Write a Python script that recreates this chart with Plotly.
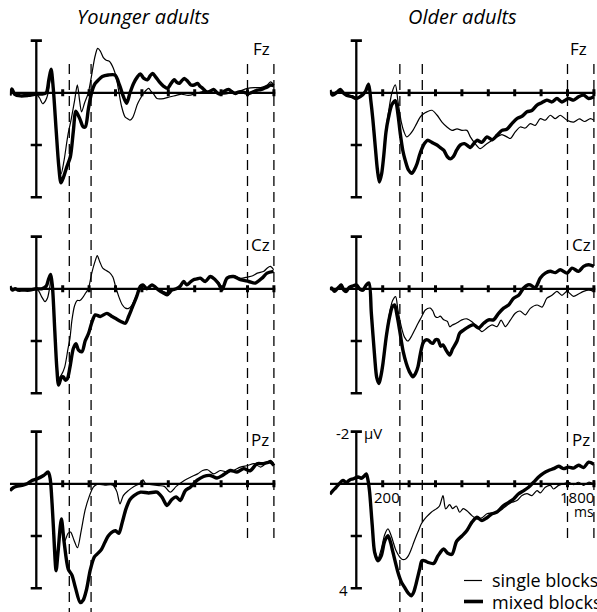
import plotly.graph_objects as go

# ---------------- data (time in ms, amplitude in µV; negative plotted up) ----------------
PANEL_TITLES = ["Younger adults", "Older adults"]
ELECTRODES = ["Fz", "Cz", "Pz"]
SERIES_NAMES = ["single blocks", "mixed blocks"]

X_TICKS_MS = [200, 400, 600, 800, 1000, 1200, 1400, 1600, 1800]
Y_TICKS_UV = [-2, 2, 4]
WINDOWS_YOUNG = [250, 415]
WINDOWS_OLD = [330, 500]
WINDOWS_LATE = [1600, 1800]

# Younger adults, Fz
YF_MIXED = [(-200,0.1),(-185,-0.15),(-165,0.05),(-120,0.12),(-60,0.1),(0,0.05),(40,0.05),(75,0.0),(95,-0.5),(112,-0.9),(128,-0.2),(150,1.4),(170,2.8),(187,3.45),(205,3.25),(230,2.85),(258,2.45),(280,1.5),(300,0.7),(330,1.0),(355,1.3),(372,1.3),(395,0.6),(419,0.0),(445,-0.35),(470,-0.49),(500,-0.62),(545,-0.68),(596,-0.68),(630,-0.3),(660,0.15),(684,0.4),(710,0.0),(737,-0.36),(765,-0.6),(788,-0.72),(815,-0.55),(843,-0.5),(862,-0.65),(881,-0.74),(905,-0.6),(932,-0.42),(965,-0.25),(995,-0.17),(1020,-0.35),(1045,-0.5),(1065,-0.4),(1083,-0.36),(1100,-0.45),(1121,-0.55),(1145,-0.45),(1171,-0.3),(1195,-0.3),(1222,-0.36),(1240,-0.25),(1260,-0.17),(1285,-0.05),(1310,-0.04),(1343,-0.13),(1370,0.0),(1394,0.05),(1420,-0.05),(1457,-0.13),(1480,-0.05),(1508,0.03),(1530,-0.03),(1558,-0.04),(1585,0.0),(1611,0.03),(1640,-0.03),(1674,-0.1),(1700,-0.12),(1724,-0.17),(1750,-0.22),(1775,-0.3),(1800,-0.27)]
YF_SINGLE = [(-200,0.1),(-185,-0.1),(-160,0.05),(-120,0.1),(-60,0.1),(0,0.05),(25,0.2),(48,0.42),(70,0.3),(90,0.0),(105,-0.5),(115,-0.65),(130,-0.1),(150,1.3),(170,2.6),(188,3.1),(210,2.6),(240,1.6),(265,1.0),(290,0.3),(311,-0.3),(328,0.3),(343,0.73),(365,0.4),(394,0.0),(420,-0.7),(445,-1.4),(465,-1.7),(485,-1.6),(508,-1.35),(530,-1.25),(555,-1.2),(583,-0.95),(605,-0.6),(621,-0.17),(645,0.5),(672,0.92),(695,1.0),(710,1.05),(730,0.95),(747,0.73),(765,0.45),(788,0.22),(815,0.0),(851,-0.17),(870,-0.05),(889,0.05),(914,0.22),(965,0.22),(1015,0.15),(1060,0.1),(1100,0.05),(1150,0.1),(1200,0.05),(1260,-0.05),(1310,0.0),(1370,0.0),(1420,0.05),(1480,0.0),(1530,-0.05),(1601,-0.17),(1650,-0.2),(1700,-0.2),(1750,-0.3),(1775,-0.42),(1800,-0.3)]

# Younger adults, Cz
YC_MIXED = [(-200,-0.1),(-180,0.05),(-160,0.0),(-140,0.05),(-100,0.05),(-50,0.05),(0,0.0),(40,0.0),(75,-0.1),(95,-0.4),(109,-0.55),(122,-0.1),(140,1.6),(155,3.0),(169,3.69),(190,3.4),(205,3.37),(220,3.5),(235,3.45),(255,3.0),(280,2.3),(300,2.1),(320,2.35),(346,2.41),(370,2.0),(396,1.71),(420,1.3),(447,1.0),(485,1.06),(535,0.94),(570,1.05),(598,1.13),(640,1.25),(674,1.32),(700,1.05),(725,0.74),(760,0.3),(788,-0.09),(808,-0.15),(838,0.0),(876,-0.15),(927,0.05),(960,0.15),(990,0.23),(1027,0.05),(1060,0.0),(1090,-0.1),(1116,-0.28),(1140,-0.15),(1165,-0.25),(1191,-0.35),(1217,-0.38),(1242,-0.41),(1280,-0.28),(1318,-0.47),(1355,-0.35),(1380,-0.2),(1407,0.03),(1445,-0.41),(1495,-0.47),(1546,-0.35),(1609,-0.28),(1659,-0.22),(1710,-0.41),(1748,-0.6),(1798,-0.67)]
YC_SINGLE = [(-200,-0.1),(-180,0.05),(-160,0.0),(-140,0.05),(-100,0.05),(-50,0.05),(0,0.0),(20,0.1),(40,0.3),(66,0.49),(85,0.35),(100,0.0),(112,-0.35),(125,0.0),(145,2.0),(160,3.1),(172,3.4),(190,3.3),(215,3.0),(240,2.3),(255,1.9),(270,1.2),(290,0.65),(310,0.45),(330,0.45),(350,0.35),(375,0.15),(394,0.0),(420,-0.6),(445,-1.05),(462,-1.27),(480,-1.05),(505,-0.78),(530,-0.7),(555,-0.62),(580,-0.45),(600,-0.1),(625,0.3),(650,0.6),(675,0.74),(700,0.75),(725,0.62),(750,0.35),(775,0.05),(795,-0.15),(815,-0.1),(838,0.0),(876,-0.12),(927,0.0),(960,0.1),(990,0.15),(1027,0.05),(1060,0.0),(1090,-0.1),(1116,-0.25),(1140,-0.18),(1165,-0.25),(1191,-0.35),(1217,-0.4),(1242,-0.38),(1280,-0.3),(1318,-0.45),(1355,-0.35),(1380,-0.25),(1407,-0.05),(1445,-0.4),(1495,-0.5),(1546,-0.4),(1600,-0.45),(1640,-0.5),(1674,-0.6),(1724,-0.67),(1748,-0.79),(1773,-0.86),(1798,-0.73)]

# Younger adults, Pz
YP_MIXED = [(-200,0.26),(-175,0.15),(-150,0.1),(-110,0.06),(-70,0.0),(-33,-0.13),(5,-0.19),(55,-0.32),(90,-0.45),(105,-0.2),(120,0.8),(131,1.8),(150,3.33),(165,2.6),(190,1.35),(210,2.2),(242,3.27),(270,3.5),(295,3.95),(333,4.55),(356,4.45),(381,4.04),(409,3.3),(440,2.8),(470,2.65),(495,2.5),(520,2.24),(545,2.0),(571,1.86),(600,1.8),(625,1.9),(650,1.5),(680,0.95),(710,0.6),(740,0.45),(790,0.32),(851,0.35),(914,0.32),(952,0.51),(990,0.83),(1027,0.6),(1060,0.5),(1091,0.64),(1129,0.26),(1167,0.13),(1217,-0.13),(1267,-0.28),(1318,-0.32),(1369,-0.22),(1410,-0.32),(1470,-0.51),(1520,-0.45),(1571,-0.58),(1620,-0.5),(1672,-0.77),(1720,-0.77),(1773,-0.83),(1800,-0.7)]
YP_SINGLE = [(-200,0.26),(-175,0.15),(-150,0.1),(-110,0.06),(-70,0.0),(-33,-0.13),(5,-0.19),(55,-0.3),(90,-0.4),(105,-0.2),(120,0.7),(133,1.8),(150,3.0),(167,2.4),(190,1.4),(215,2.2),(240,1.9),(260,1.85),(285,2.15),(312,2.45),(340,1.8),(370,1.0),(400,0.5),(432,0.13),(460,0.02),(520,0.05),(580,0.05),(610,0.3),(634,0.77),(659,0.45),(697,0.26),(740,0.1),(780,0.0),(808,-0.15),(830,0.0),(870,0.03),(930,0.07),(970,0.1),(1015,0.32),(1060,0.1),(1121,-0.13),(1171,-0.26),(1222,-0.38),(1260,-0.51),(1298,-0.54),(1343,-0.38),(1394,-0.51),(1445,-0.45),(1495,-0.51),(1546,-0.64),(1601,-0.7),(1650,-0.77),(1700,-0.64),(1750,-0.83),(1775,-0.9),(1800,-0.77)]

# Older adults, Fz
OF_MIXED = [(-200,-0.1),(-180,0.09),(-160,0.03),(-140,-0.05),(-121,-0.13),(-100,0.0),(-75,0.09),(-33,0.15),(0,0.22),(30,0.15),(68,-0.04),(93,-0.33),(110,0.3),(125,1.0),(144,2.08),(160,2.95),(175,3.42),(192,3.1),(207,2.46),(225,1.5),(245,0.92),(270,0.45),(296,0.3),(315,0.8),(333,1.56),(352,2.2),(371,2.59),(395,2.95),(422,3.08),(440,2.95),(460,2.72),(478,2.4),(497,2.14),(515,1.95),(540,1.82),(573,1.9),(611,2.0),(636,2.1),(662,2.2),(690,2.45),(712,2.53),(735,2.45),(760,2.2),(788,2.0),(820,1.95),(850,2.05),(864,2.1),(890,1.95),(914,1.82),(950,1.9),(990,1.69),(1030,1.8),(1066,1.63),(1103,1.44),(1140,1.4),(1179,1.18),(1217,0.99),(1255,0.9),(1293,0.73),(1330,0.68),(1369,0.47),(1405,0.38),(1444,0.28),(1482,0.35),(1520,0.22),(1558,0.35),(1608,0.22),(1646,0.28),(1684,0.15),(1722,0.09),(1760,0.22),(1800,0.15)]
OF_SINGLE = [(-200,-0.1),(-180,0.09),(-160,0.03),(-140,-0.05),(-121,-0.13),(-100,0.0),(-75,0.09),(-33,0.12),(0,0.18),(30,0.12),(68,-0.04),(93,-0.25),(110,0.3),(125,1.0),(144,2.0),(160,2.9),(175,3.35),(192,3.05),(207,2.4),(225,1.4),(245,0.7),(270,0.0),(296,-0.3),(315,0.3),(341,1.12),(362,1.5),(382,1.69),(405,1.6),(429,1.44),(455,1.2),(485,0.92),(510,0.8),(535,0.73),(573,0.67),(611,0.85),(649,1.12),(687,1.31),(725,1.44),(763,1.38),(800,1.44),(838,1.44),(864,1.69),(901,1.95),(939,2.14),(977,2.0),(1020,1.85),(1066,1.69),(1103,1.6),(1141,1.69),(1167,1.75),(1204,1.5),(1242,1.31),(1280,1.35),(1318,1.18),(1356,1.25),(1394,0.99),(1432,1.05),(1470,0.86),(1508,0.99),(1545,0.86),(1596,1.05),(1646,1.12),(1690,1.0),(1730,1.1),(1773,0.99),(1800,1.05)]

# Older adults, Cz
OC_MIXED = [(-200,0.04),(-188,-0.03),(-165,0.1),(-145,0.0),(-125,-0.1),(-114,-0.15),(-95,0.05),(-76,0.1),(-55,-0.05),(-30,-0.1),(0,-0.15),(25,0.0),(50,0.05),(76,-0.15),(96,-0.22),(114,0.94),(139,2.6),(155,3.4),(172,3.63),(188,3.3),(202,2.86),(228,1.8),(253,1.06),(272,0.7),(290,0.62),(308,1.0),(328,1.58),(355,2.4),(379,2.86),(405,3.2),(429,3.37),(448,3.25),(467,2.99),(485,2.5),(505,2.09),(525,1.96),(543,1.96),(562,2.05),(581,2.09),(600,1.95),(619,1.96),(640,2.2),(657,2.15),(680,2.35),(707,2.54),(730,2.3),(763,2.0),(783,1.7),(813,1.58),(851,1.45),(889,1.38),(927,1.5),(965,1.32),(1002,1.19),(1040,1.19),(1078,0.94),(1116,0.74),(1154,0.62),(1192,0.36),(1230,0.25),(1268,-0.03),(1300,-0.15),(1318,-0.15),(1356,-0.05),(1394,-0.41),(1432,-0.6),(1470,-0.67),(1508,-0.62),(1545,-0.73),(1596,-0.6),(1634,-0.79),(1684,-0.67),(1722,-0.86),(1760,-0.92),(1800,-0.86)]
OC_SINGLE = [(-200,0.04),(-188,-0.03),(-165,0.1),(-145,0.0),(-125,-0.1),(-114,-0.15),(-95,0.05),(-76,0.1),(-55,-0.05),(-30,-0.1),(0,-0.12),(25,0.05),(50,0.08),(76,-0.1),(96,-0.18),(114,0.94),(139,2.6),(155,3.35),(172,3.55),(188,3.25),(202,2.8),(228,1.7),(253,0.9),(275,0.45),(298,0.3),(315,0.8),(341,1.45),(365,1.85),(391,2.0),(420,1.8),(442,1.58),(470,1.3),(492,1.1),(523,0.81),(561,0.74),(580,0.85),(598,1.06),(617,1.1),(636,1.05),(662,1.19),(690,1.25),(707,1.45),(725,1.4),(763,1.3),(800,1.19),(838,1.15),(876,1.26),(914,1.45),(952,1.64),(990,1.5),(1028,1.38),(1066,1.45),(1097,1.2),(1129,1.45),(1167,1.2),(1204,0.94),(1240,0.85),(1280,1.0),(1318,0.75),(1369,0.62),(1407,0.7),(1444,0.36),(1482,0.25),(1520,0.1),(1558,0.25),(1596,0.1),(1646,0.29),(1684,0.2),(1722,0.1),(1760,0.05),(1800,0.1)]

# Older adults, Pz
OP_MIXED = [(-200,0.4),(-177,0.26),(-155,0.15),(-130,0.0),(-101,-0.13),(-75,-0.05),(-50,-0.15),(-25,-0.19),(13,-0.26),(40,-0.22),(60,-0.3),(76,-0.38),(90,-0.1),(101,0.32),(121,1.6),(139,2.63),(164,2.95),(189,2.76),(215,2.2),(240,1.99),(260,2.25),(278,2.63),(316,3.4),(340,3.75),(366,3.97),(395,4.2),(417,4.29),(435,4.15),(449,3.91),(480,3.27),(497,2.95),(520,2.95),(543,3.01),(586,3.05),(619,2.76),(662,2.5),(690,2.65),(725,2.7),(760,2.2),(800,2.0),(838,1.79),(876,1.47),(914,1.28),(952,1.41),(990,1.3),(1028,1.15),(1066,1.08),(1116,0.83),(1154,0.71),(1192,0.58),(1230,0.38),(1268,0.26),(1305,0.13),(1343,-0.06),(1381,-0.26),(1419,-0.41),(1457,-0.51),(1495,-0.58),(1533,-0.67),(1571,-0.58),(1608,-0.64),(1646,-0.6),(1684,-0.71),(1722,-0.62),(1760,-0.83),(1800,-0.75)]
OP_SINGLE = [(-200,0.4),(-177,0.26),(-155,0.15),(-130,0.0),(-101,-0.13),(-75,-0.05),(-50,-0.15),(-25,-0.19),(13,-0.22),(40,-0.18),(60,-0.28),(76,-0.33),(90,-0.1),(101,0.32),(121,1.5),(139,2.5),(164,2.85),(189,2.5),(215,1.95),(240,1.73),(265,2.0),(300,2.55),(328,2.8),(350,2.9),(374,2.88),(395,2.75),(417,2.5),(435,2.25),(455,1.99),(475,1.75),(492,1.54),(510,1.4),(530,1.28),(568,1.09),(606,0.96),(630,0.85),(657,0.45),(677,0.96),(707,0.8),(730,0.95),(758,0.85),(783,1.09),(810,0.95),(838,1.03),(876,1.22),(914,1.35),(952,1.3),(990,1.15),(1028,1.12),(1066,1.09),(1103,0.98),(1141,0.83),(1179,0.71),(1217,0.64),(1255,0.45),(1293,0.38),(1331,0.45),(1369,0.26),(1394,0.35),(1432,0.13),(1470,0.06),(1495,0.2),(1533,0.06),(1570,0.0),(1608,-0.06),(1646,0.03),(1684,-0.06),(1722,0.06),(1760,-0.06),(1800,0.0)]

PANELS = [  # (row, col, electrode, single, mixed)
    (0, 0, "Fz", YF_SINGLE, YF_MIXED), (0, 1, "Fz", OF_SINGLE, OF_MIXED),
    (1, 0, "Cz", YC_SINGLE, YC_MIXED), (1, 1, "Cz", OC_SINGLE, OC_MIXED),
    (2, 0, "Pz", YP_SINGLE, YP_MIXED), (2, 1, "Pz", OP_SINGLE, OP_MIXED),
]

# ---------------- layout geometry (pixels) ----------------
W, H = 597, 612
PX_PER_MS = 0.132
PX_PER_UV = 26.1
T_MIN, T_MAX = -200, 1820
UV_TOP, UV_BOT = -3.5, 4.9
COL_ZERO_X = [36.3, 356.3]
ROW_ZERO_Y = [92.8, 288.8, 483.8]
FONT = "Open Sans"

def fx(px):
    return px / W

def fy(py):
    return 1 - py / H

fig = go.Figure()

layout_axes = {}
for c in range(2):
    left = COL_ZERO_X[c] + T_MIN * PX_PER_MS
    right = COL_ZERO_X[c] + T_MAX * PX_PER_MS
    name = "xaxis" if c == 0 else "xaxis2"
    layout_axes[name] = dict(domain=[fx(left), min(fx(right), 1.0)], range=[T_MIN, T_MAX],
                             visible=False, fixedrange=True)
for r in range(3):
    top = ROW_ZERO_Y[r] + UV_TOP * PX_PER_UV
    bot = ROW_ZERO_Y[r] + UV_BOT * PX_PER_UV
    name = "yaxis" if r == 0 else f"yaxis{r+1}"
    layout_axes[name] = dict(domain=[max(fy(bot), 0.0), fy(top)], range=[UV_BOT, UV_TOP],
                             visible=False, fixedrange=True)

AX = "black"
for (r, c, elec, single, mixed) in PANELS:
    xa = "x" if c == 0 else "x2"
    ya = "y" if r == 0 else f"y{r+1}"
    # zero line
    fig.add_trace(go.Scatter(x=[T_MIN, 1810], y=[0, 0], mode="lines", xaxis=xa, yaxis=ya,
                             line=dict(color=AX, width=2.3), showlegend=False, hoverinfo="skip"))
    # x ticks
    fig.add_trace(go.Scatter(x=X_TICKS_MS, y=[0] * len(X_TICKS_MS), mode="markers", xaxis=xa, yaxis=ya,
                             marker=dict(symbol="line-ns", size=5, line=dict(color=AX, width=3)),
                             showlegend=False, hoverinfo="skip"))
    # y axis bar
    fig.add_trace(go.Scatter(x=[0, 0], y=[min(Y_TICKS_UV), max(Y_TICKS_UV)], mode="lines", xaxis=xa, yaxis=ya,
                             line=dict(color=AX, width=2.3), showlegend=False, hoverinfo="skip"))
    fig.add_trace(go.Scatter(x=[0] * len(Y_TICKS_UV), y=Y_TICKS_UV, mode="markers", xaxis=xa, yaxis=ya,
                             marker=dict(symbol="line-ew", size=8, line=dict(color=AX, width=2.6)),
                             showlegend=False, hoverinfo="skip"))
    # waveforms
    fig.add_trace(go.Scatter(x=[p[0] for p in single], y=[p[1] for p in single], mode="lines",
                             xaxis=xa, yaxis=ya, name=SERIES_NAMES[0], showlegend=False,
                             line=dict(color="black", width=1.2, shape="spline", smoothing=0.8)))
    fig.add_trace(go.Scatter(x=[p[0] for p in mixed], y=[p[1] for p in mixed], mode="lines",
                             xaxis=xa, yaxis=ya, name=SERIES_NAMES[1], showlegend=False,
                             line=dict(color="black", width=3.4, shape="spline", smoothing=0.8)))

# dashed analysis windows
shapes = []
DASH_TOP = fy(64)
for c, wins in enumerate([WINDOWS_YOUNG, WINDOWS_OLD]):
    xa = "x" if c == 0 else "x2"
    for t in wins:
        shapes.append(dict(type="line", xref=xa, yref="paper", x0=t, x1=t, y0=DASH_TOP, y1=0,
                           line=dict(color="black", width=1.3, dash="10px,6px")))
    for t in WINDOWS_LATE:
        shapes.append(dict(type="line", xref=xa, yref="paper", x0=t, x1=t, y0=DASH_TOP, y1=fy(540),
                           line=dict(color="black", width=1.3, dash="10px,6px")))

# legend samples
shapes.append(dict(type="line", xref="paper", yref="paper", x0=fx(464), x1=fx(482), y0=fy(580.5), y1=fy(580.5),
                   line=dict(color="black", width=1.2)))
shapes.append(dict(type="line", xref="paper", yref="paper", x0=fx(464), x1=fx(483), y0=fy(601.5), y1=fy(601.5),
                   line=dict(color="black", width=3.6)))

ann = []
def text(x, y, s, size, xanchor="center", italic=False):
    ann.append(dict(x=fx(x), y=fy(y), xref="paper", yref="paper", text=s, showarrow=False,
                    xanchor=xanchor, yanchor="middle",
                    font=dict(family=FONT, size=size, color="black", style="italic" if italic else "normal")))

text(143, 16, PANEL_TITLES[0], 20, italic=True)
text(462, 16, PANEL_TITLES[1], 20, italic=True)
ELEC_POS = {(0, 0): (261, 49), (0, 1): (578, 49), (1, 0): (260, 244), (1, 1): (581, 244),
            (2, 0): (260, 439), (2, 1): (581, 439)}
for (r, c, elec, _, _) in PANELS:
    x, y = ELEC_POS[(r, c)]
    text(x, y, elec, 17)

# axis labels on the bottom-right panel
text(351, 433, str(min(Y_TICKS_UV)), 15, xanchor="right")
text(362, 433, "µV", 15, xanchor="left")
text(350, 590, str(max(Y_TICKS_UV)), 15, xanchor="right")
text(387, 497, str(X_TICKS_MS[0]), 15)
text(577, 497, str(X_TICKS_MS[-1]), 15)
text(584, 511, "ms", 14)

# legend labels
text(490, 580, SERIES_NAMES[0], 18, xanchor="left")
text(490, 602, SERIES_NAMES[1], 18, xanchor="left")

fig.update_layout(width=W, height=H, margin=dict(l=0, r=0, t=0, b=0),
                  paper_bgcolor="white", plot_bgcolor="rgba(0,0,0,0)",
                  shapes=shapes, annotations=ann, showlegend=False, **layout_axes)

fig.write_html("out.html", config={"displayModeBar": False, "staticPlot": True},
               post_script="document.body.style.margin='0';document.body.style.overflow='hidden';")
